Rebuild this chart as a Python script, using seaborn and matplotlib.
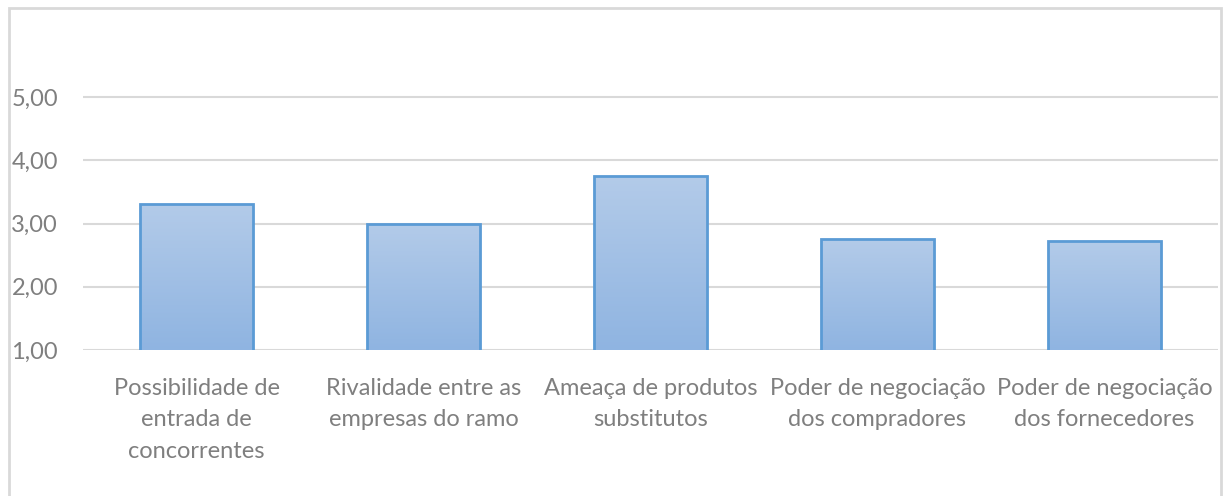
import numpy as np
import pandas as pd
import matplotlib
matplotlib.use("Agg")
import matplotlib.pyplot as plt
import seaborn as sns
from matplotlib.patches import Rectangle
from matplotlib.colors import LinearSegmentedColormap

categories = [
    "Possibilidade de\nentrada de\nconcorrentes",
    "Rivalidade entre as\nempresas do ramo",
    "Ameaça de produtos\nsubstitutos",
    "Poder de negociação\ndos compradores",
    "Poder de negociação\ndos fornecedores",
]
values = [3.31, 3.00, 3.75, 2.75, 2.72]
yticks = [1.0, 2.0, 3.0, 4.0, 5.0]
ytick_labels = ["1,00", "2,00", "3,00", "4,00", "5,00"]

sns.set_theme(style="white")
plt.rcParams["font.family"] = ["Lato", "DejaVu Sans"]

fig = plt.figure(figsize=(12.27, 4.96), dpi=100)
ax = fig.add_axes([83 / 1227, 146 / 496, 1135 / 1227, (350 - 65.4) / 496])

df = pd.DataFrame({"cat": categories, "val": values})
sns.barplot(data=df, x="cat", y="val", ax=ax, width=0.5, color="#a3c0e6",
            edgecolor="#5b9bd5", linewidth=2.0, zorder=3)

ymin = 1.0
ax.set_ylim(ymin, 5.5)
ax.set_yticks(yticks)
ax.set_yticklabels(ytick_labels)
ax.set_xlabel("")
ax.set_ylabel("")
ax.grid(axis="y", color="#d9d9d9", linewidth=1.5, zorder=0)
ax.grid(axis="x", visible=False)
for s in ax.spines.values():
    s.set_visible(False)
ax.tick_params(axis="both", length=0, colors="#7f7f7f", labelsize=17)
ax.tick_params(axis="y", pad=18)
ax.tick_params(axis="x", pad=20)
for lbl in ax.get_xticklabels():
    lbl.set_linespacing(1.62)

# gradient fill for bars
cmap = LinearSegmentedColormap.from_list("g", ["#8fb4e1", "#b3cbe9"])
grad = np.linspace(0, 1, 256).reshape(-1, 1)
for p in ax.patches:
    x0, y0 = p.get_x(), p.get_y()
    w, h = p.get_width(), p.get_height()
    im = ax.imshow(grad, cmap=cmap, origin="lower", aspect="auto",
                   extent=[x0, x0 + w, ymin, y0 + h], zorder=2.5)
    im.set_clip_path(p)
    p.set_facecolor("none")
ax.set_xlim(-0.5, len(categories) - 0.5)
ax.set_ylim(ymin, 5.5)

# outer chart border
fig.patches.append(Rectangle((9 / 1227, -0.05), (1221 - 9) / 1227, (496 - 8) / 496 + 0.05,
                             transform=fig.transFigure, fill=False,
                             edgecolor="#d9d9d9", linewidth=2.0))

fig.savefig("out.png", dpi=100)
